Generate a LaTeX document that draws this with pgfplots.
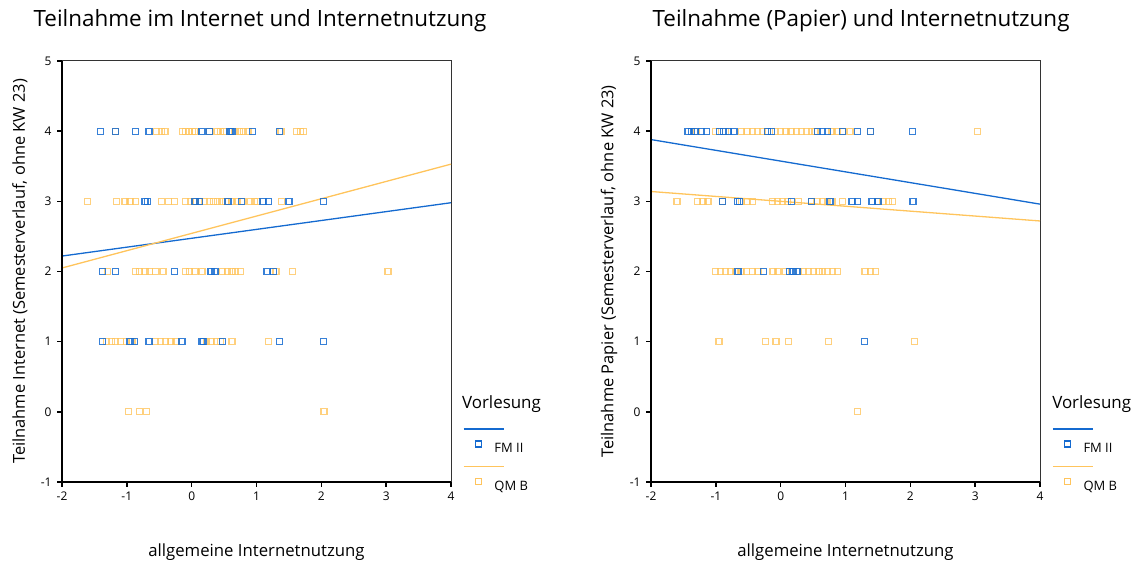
\documentclass[border=0pt]{standalone}
\usepackage{pgfplots}
\pgfplotsset{compat=1.18}
\usepackage{fontspec}
\setmainfont{Open Sans}

\definecolor{fmblue}{RGB}{20,106,208}
\definecolor{qmyellow}{RGB}{255,196,92}

\pgfplotsset{
  panel/.style={
    scale only axis, width=389bp, height=421bp,
    anchor=south west,
    xmin=-2, xmax=4, ymin=-1, ymax=5,
    xtick={-2,-1,...,4}, ytick={-1,0,...,5},
    tick pos=left, tick align=outside,
    major tick length=5bp,
    every tick/.style={black, line width=1.6bp},
    axis line style={line width=1bp, black!80},
    tick label style={font=\fontsize{12}{14}\selectfont},
    /pgf/number format/assume math mode=true,
    xticklabel style={yshift=-1bp},
    yticklabel style={xshift=-2bp},
    title style={font=\fontsize{22.5}{26}\selectfont, anchor=center},
    xlabel style={font=\fontsize{16.8}{20}\selectfont, at={(axis description cs:0.5,-0.166)}, anchor=center},
    ylabel style={font=\fontsize{16.5}{20}\selectfont, at={(axis description cs:-0.108,0.5)}, anchor=center, rotate=0},
    clip=false,
    legend style={at={(rel axis cs:1.0308,0.1271)}, anchor=north west,
      draw=none, fill=none, inner sep=0pt, outer sep=0pt,
      row sep=11.85bp, column sep=-10bp,
      nodes={inner sep=0pt, outer sep=0pt},
      font=\fontsize{13}{15}\selectfont},
    legend cell align=left,
    % key: a short fit line with the marker square below it
    legend image code/.code={
      \draw[line width=1.5bp, ##1] (-15bp,19.5bp) -- (25bp,19.5bp);
      \draw[line width=1.3bp, ##1] (-3bp,1.65bp) rectangle (3bp,7.65bp);
    },
  },
  fmmarks/.style={only marks, mark=square, mark size=3bp,
    mark options={draw=fmblue, line width=1.3bp, draw opacity=0.85}, forget plot},
  qmmarks/.style={only marks, mark=square, mark size=3bp,
    mark options={draw=qmyellow, line width=1.3bp, draw opacity=0.8}, forget plot},
  fmline/.style={fmblue, line width=1.3bp, forget plot},
  qmline/.style={qmyellow, line width=1.3bp, forget plot},
}

% Teilnahme im Internet
\pgfplotstableread{
x y
-1.41 4
-1.17 4
-0.87 4
-0.66 4
0.16 4
0.28 4
0.59 4
0.62 4
0.94 4
1.36 4
-0.72 3
-0.68 3
0.05 3
0.12 3
0.56 3
0.77 3
1.10 3
1.18 3
1.50 3
2.03 3
-1.37 2
-1.17 2
-0.27 2
0.30 2
0.36 2
1.16 2
1.26 2
-1.37 1
-0.95 1
-0.88 1
-0.66 1
-0.15 1
0.16 1
0.18 1
0.48 1
1.35 1
2.03 1
}\fmInternet

\pgfplotstableread{
x y
-1.17 4
-0.54 4
-0.47 4
-0.41 4
-0.14 4
-0.09 4
-0.04 4
0.01 4
0.05 4
0.28 4
0.39 4
0.44 4
0.50 4
0.67 4
0.74 4
0.80 4
0.87 4
1.38 4
1.62 4
1.68 4
1.72 4
-1.61 3
-1.16 3
-1.03 3
-0.95 3
-0.87 3
-0.46 3
-0.36 3
-0.26 3
-0.10 3
-0.02 3
0.05 3
0.12 3
0.20 3
0.27 3
0.34 3
0.40 3
0.47 3
0.52 3
0.62 3
0.70 3
0.78 3
0.90 3
0.97 3
1.02 3
1.39 3
-1.30 2
-0.87 2
-0.80 2
-0.72 2
-0.65 2
-0.56 2
-0.44 2
-0.10 2
-0.03 2
0.05 2
0.16 2
0.47 2
0.55 2
0.62 2
0.68 2
0.75 2
1.30 2
1.56 2
3.03 2
-1.31 1
-1.24 1
-1.17 1
-1.10 1
-1.00 1
-0.92 1
-0.56 1
-0.48 1
-0.40 1
-0.32 1
-0.24 1
0.23 1
0.30 1
0.38 1
0.45 1
0.62 1
1.18 1
-0.97 0
-0.80 0
-0.70 0
2.04 0
}\qmInternet

% Teilnahme Papier
\pgfplotstableread{
x y
-1.43 4
-1.38 4
-1.32 4
-1.22 4
-1.14 4
-0.94 4
-0.88 4
-0.80 4
-0.72 4
-0.20 4
-0.14 4
0.57 4
0.64 4
0.72 4
0.95 4
1.19 4
1.39 4
2.03 4
-0.90 3
-0.67 3
-0.63 3
0.17 3
0.48 3
0.76 3
1.10 3
1.19 3
1.41 3
1.50 3
2.04 3
-0.66 2
-0.27 2
0.14 2
0.19 2
0.25 2
1.29 1
}\fmPapier

\pgfplotstableread{
x y
-1.30 4
-1.01 4
-0.85 4
-0.60 4
-0.52 4
-0.44 4
-0.36 4
-0.28 4
-0.20 4
-0.08 4
0.00 4
0.08 4
0.16 4
0.24 4
0.32 4
0.40 4
0.48 4
0.53 4
0.79 4
0.87 4
0.95 4
1.07 4
1.39 4
3.04 4
-1.60 3
-1.28 3
-1.20 3
-1.12 3
-0.90 3
-0.60 3
-0.52 3
-0.44 3
-0.13 3
-0.05 3
0.03 3
0.11 3
0.27 3
0.48 3
0.56 3
0.64 3
0.72 3
0.79 3
0.95 3
1.50 3
1.58 3
1.66 3
1.73 3
-1.01 2
-0.93 2
-0.85 2
-0.77 2
-0.69 2
-0.61 2
-0.53 2
-0.44 2
-0.35 2
-0.12 2
-0.04 2
0.07 2
0.27 2
0.35 2
0.43 2
0.51 2
0.59 2
0.64 2
0.72 2
0.80 2
0.88 2
1.30 2
1.38 2
1.46 2
-0.95 1
-0.23 1
-0.07 1
0.12 1
0.74 1
2.06 1
1.19 0
}\qmPapier

\begin{document}
\begin{tikzpicture}[x=1bp,y=1bp]
\useasboundingbox (0,0) rectangle (1140,561);

\begin{axis}[panel, at={(62bp,79bp)},
  title={Teilnahme im Internet und Internetnutzung},
  title style={at={(axis description cs:0.509,1.081)}},
  xlabel={allgemeine Internetnutzung},
  ylabel={Teilnahme Internet (Semesterverlauf, ohne KW 23)}]
  \addplot[qmmarks] table {\qmInternet};
  \addplot[fmmarks] table {\fmInternet};
  \addplot[fmline] coordinates {(-2,2.22) (4,2.98)};
  \addplot[qmline] coordinates {(-2,2.05) (4,3.53)};
  \draw[line width=2bp, black] (rel axis cs:0,1) -- (rel axis cs:0,0) -- (rel axis cs:1,0);
  \addlegendimage{fmblue}\addlegendentry{FM II}
  \addlegendimage{qmyellow}\addlegendentry{QM B}
  \node[anchor=west, inner sep=0pt, font=\fontsize{17}{20}\selectfont] at (rel axis cs:1.028,0.186) {Vorlesung};
\end{axis}

\begin{axis}[panel, at={(651bp,79bp)},
  title={Teilnahme (Papier) und Internetnutzung},
  title style={at={(axis description cs:0.54,1.081)}},
  xlabel={allgemeine Internetnutzung},
  ylabel={Teilnahme Papier (Semesterverlauf, ohne KW 23)}]
  \addplot[qmmarks] table {\qmPapier};
  \addplot[fmmarks] table {\fmPapier};
  \addplot[fmline] coordinates {(-2,3.88) (4,2.96)};
  \addplot[qmline] coordinates {(-2,3.14) (4,2.72)};
  \draw[line width=2bp, black] (rel axis cs:0,1) -- (rel axis cs:0,0) -- (rel axis cs:1,0);
  \addlegendimage{fmblue}\addlegendentry{FM II}
  \addlegendimage{qmyellow}\addlegendentry{QM B}
  \node[anchor=west, inner sep=0pt, font=\fontsize{17}{20}\selectfont] at (rel axis cs:1.031,0.186) {Vorlesung};
\end{axis}
\end{tikzpicture}
\end{document}
